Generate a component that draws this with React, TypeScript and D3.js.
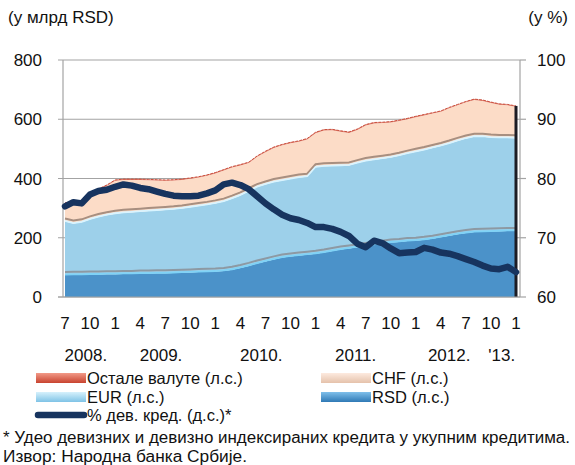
import React from "react";
import * as d3 from "d3";

// Monthly data, July 2008 .. January 2013 (55 months), bn RSD
const rsd = [74,75,75,76,76,77,77,78,78,79,79,80,80,81,82,83,84,85,86,88,92,98,105,113,120,127,133,137,140,143,146,150,155,160,164,168,172,176,180,184,186,189,190,193,197,202,207,212,216,219,220,221,222,223,223];
const eur = [181,173,177,186,194,199,204,206,208,209,211,212,214,215,217,220,223,226,230,234,240,245,252,258,260,261,260,261,263,263,292,291,287,283,280,284,287,287,287,287,291,295,300,303,306,308,311,315,319,322,321,317,315,314,313];
const chf = [60,71,70,85,92,99,111,111,109,107,104,101,98,97,96,96,96,98,101,105,105,101,95,102,109,115,119,121,121,126,115,121,121,115,110,112,120,123,120,118,117,116,117,117,116,115,119,120,122,124,121,117,112,110,106];
const other = [3,3,3,3,3,3,3,3,3,3,3,3,3,3,3,3,3,3,3,3,3,3,3,3,3,3,3,3,3,3,3,3,3,3,3,3,3,3,3,3,3,3,3,3,3,3,3,3,3,3,3,3,3,3,3];
// share of FX and FX-indexed loans, %
const fxShare = [75.3,76.0,75.8,77.3,77.9,78.1,78.6,79.0,78.8,78.4,78.2,77.8,77.4,77.1,77.0,77.0,77.1,77.5,78.0,79.0,79.3,78.9,78.2,77.0,75.8,74.8,73.9,73.3,73.0,72.5,71.8,71.8,71.5,71.0,70.3,69.0,68.4,69.5,69.1,68.2,67.4,67.5,67.6,68.3,68.0,67.5,67.3,66.9,66.4,65.9,65.3,64.8,64.7,65.1,64.2];

const monthLabels = ["7","10","1","4","7","10","1","4","7","10","1","4","7","10","1","4","7","10","1"];
const yearLabels = ["2008.","2009.","2010.","2011.","2012.","'13."];
const yearAnchor = [2.5, 11.5, 23.5, 34.8, 46, 52.3];
const leftTicks = [0, 200, 400, 600, 800];
const rightTicks = [60, 70, 80, 90, 100];

const FONT = "'Liberation Sans', Arial, sans-serif";

export default function App() {
  const W = 575, H = 465;
  const x = d3.scaleLinear().domain([0, rsd.length - 1]).range([65, 516]);
  const yL = d3.scaleLinear().domain([0, 800]).range([297, 60]);
  const yR = d3.scaleLinear().domain([60, 100]).range([297, 60]);

  const rows = rsd.map((_, i) => ({ rsd: rsd[i], eur: eur[i], chf: chf[i], other: other[i] }));
  const keys = ["rsd", "eur", "chf", "other"];
  const series = d3.stack<any>().keys(keys)(rows);
  const area = d3.area<any>().x((_, i) => x(i)).y0(d => yL(d[0])).y1(d => yL(d[1]));
  const topLine = (off: number) => d3.line<any>().x((_, i) => x(i)).y(d => yL(d[1]) - off);
  const pctLine = d3.line<number>().x((_, i) => x(i)).y(d => yR(d));

  const fills: Record<string, string> = { rsd: "#4b92c9", eur: "#9dd0ea", chf: "#fcdcc7", other: "#e07a66" };
  const last = rows.length - 1;
  const totalTop = series[3][last][1];

  return (
    <svg width={W} height={H} style={{ display: "block", position: "absolute", left: 0, top: 0 }} fontFamily={FONT}>
      <rect width={W} height={H} fill="#fff" />
      <text x={8} y={23} fontSize={17} fill="#111">(у млрд RSD)</text>
      <text x={568} y={23} fontSize={17} fill="#111" textAnchor="end">(у %)</text>

      {/* gridlines */}
      {leftTicks.map(t => (
        <line key={t} x1={58} x2={520} y1={yL(t)} y2={yL(t)} stroke="#a3a3a3" strokeWidth={1.2} />
      ))}
      {/* areas */}
      {series.map(s => (
        <path key={s.key} d={area(s) || ""} fill={fills[s.key as string]} />
      ))}
      {/* edge effects */}
      <path d={topLine(3)(series[0]) || ""} fill="none" stroke="#8d99a3" strokeWidth={2} />
      <path d={topLine(0.5)(series[0]) || ""} fill="none" stroke="#7fd2f6" strokeWidth={1.8} />
      <path d={topLine(3)(series[1]) || ""} fill="none" stroke="#a88f80" strokeWidth={2} />
      <path d={topLine(0.5)(series[1]) || ""} fill="none" stroke="#d9f4ff" strokeWidth={1.8} />
      <path d={topLine(0)(series[3]) || ""} fill="none" stroke="#c9503f" strokeWidth={1} strokeDasharray="3 1" />
      <line x1={x(last)} x2={x(last)} y1={yL(totalTop)} y2={297} stroke="#1c1c24" strokeWidth={3} />

      {/* axes */}
      <line x1={63} x2={63} y1={60} y2={297} stroke="#a3a3a3" strokeWidth={1.2} />
      <line x1={520} x2={520} y1={60} y2={297} stroke="#a3a3a3" strokeWidth={1.2} />
      {rightTicks.map(t => (
        <line key={t} x1={520} x2={526} y1={yR(t)} y2={yR(t)} stroke="#a3a3a3" strokeWidth={1.2} />
      ))}
      <line x1={58} x2={520} y1={297} y2={297} stroke="#a3a3a3" strokeWidth={1.2} />

      {/* FX share line */}
      <path d={pctLine(fxShare) || ""} fill="none" stroke="#17345f" strokeWidth={6.5} strokeLinejoin="round" strokeLinecap="round" />

      {/* axis labels */}
      {leftTicks.map(t => (
        <text key={t} x={42} y={yL(t) + 6} fontSize={17} textAnchor="end" fill="#111">{t}</text>
      ))}
      {rightTicks.map(t => (
        <text key={t} x={537} y={yR(t) + 6} fontSize={17} fill="#111">{t}</text>
      ))}
      {monthLabels.map((m, k) => (
        <text key={k} x={x(k * 3)} y={329} fontSize={17} textAnchor="middle" fill="#111">{m}</text>
      ))}
      {yearLabels.map((yl, k) => (
        <text key={k} x={x(yearAnchor[k])} y={361} fontSize={17} textAnchor="middle" fill="#111">{yl}</text>
      ))}

      {/* legend */}
      <defs>
        <linearGradient id="gRed" x1="0" y1="0" x2="0" y2="1"><stop offset="0" stopColor="#f29a88" /><stop offset="1" stopColor="#c8432f" /></linearGradient>
        <linearGradient id="gChf" x1="0" y1="0" x2="0" y2="1"><stop offset="0" stopColor="#fdeadf" /><stop offset="1" stopColor="#e5c2ab" /></linearGradient>
        <linearGradient id="gEur" x1="0" y1="0" x2="0" y2="1"><stop offset="0" stopColor="#d6f1fc" /><stop offset="1" stopColor="#7fc3e6" /></linearGradient>
        <linearGradient id="gRsd" x1="0" y1="0" x2="0" y2="1"><stop offset="0" stopColor="#7fbfea" /><stop offset="1" stopColor="#2f79b5" /></linearGradient>
      </defs>
      <rect x={36} y={373} width={50} height={10} fill="url(#gRed)" />
      <text x={87} y={384} fontSize={16.5} fill="#111">Остале валуте (л.с.)</text>
      <rect x={321} y={373} width={50} height={10} fill="url(#gChf)" />
      <text x={372} y={384} fontSize={16.5} fill="#111">CHF (л.с.)</text>
      <rect x={36} y={392} width={50} height={10} fill="url(#gEur)" />
      <text x={87} y={403} fontSize={16.5} fill="#111">EUR (л.с.)</text>
      <rect x={321} y={392} width={50} height={10} fill="url(#gRsd)" />
      <text x={372} y={403} fontSize={16.5} fill="#111">RSD (л.с.)</text>
      <line x1={38} x2={84} y1={415} y2={415} stroke="#17345f" strokeWidth={6.5} strokeLinecap="round" />
      <text x={87} y={421} fontSize={16.5} fill="#111">% дев. кред. (д.с.)*</text>

      {/* footnote */}
      <text x={3} y={443} fontSize={16} fill="#111" textLength={567} lengthAdjust="spacingAndGlyphs">* Удео девизних и девизно индексираних кредита у укупним кредитима.</text>
      <text x={3} y={462} fontSize={16} fill="#111" textLength={244} lengthAdjust="spacingAndGlyphs">Извор: Народна банка Србије.</text>
    </svg>
  );
}
